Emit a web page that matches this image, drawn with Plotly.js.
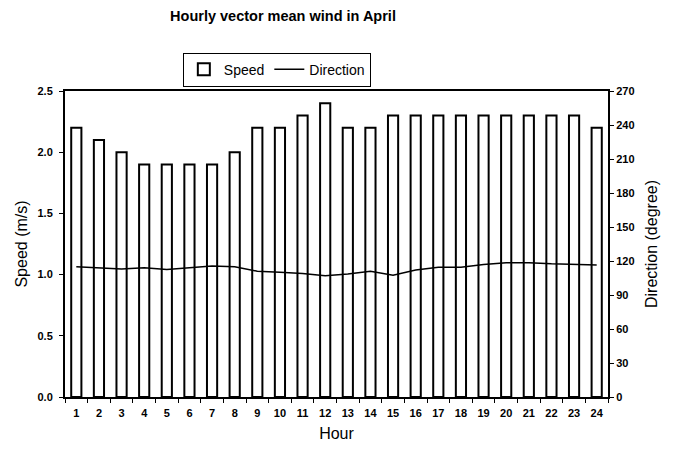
<!DOCTYPE html>
<html>
<head>
<meta charset="utf-8">
<script src="https://cdn.plot.ly/plotly-3.0.1.min.js"></script>
<style>
  html, body { margin: 0; padding: 0; background: #fff; }
  #chart { width: 674px; height: 452px; }
</style>
</head>
<body>
<div id="chart"></div>
<script>
const hours = ["1","2","3","4","5","6","7","8","9","10","11","12",
               "13","14","15","16","17","18","19","20","21","22","23","24"];
const speed = [2.2, 2.1, 2.0, 1.9, 1.9, 1.9, 1.9, 2.0, 2.2, 2.2, 2.3, 2.4,
               2.2, 2.2, 2.3, 2.3, 2.3, 2.3, 2.3, 2.3, 2.3, 2.3, 2.3, 2.2];
const direction = [115, 114, 113, 114, 112.5, 114, 115.5, 115, 111, 110, 109, 107,
                   108.5, 111, 107.5, 112, 114.5, 114.5, 117, 118.5, 118.5, 117.5, 117, 116.5];

const tickFont = {family: "Liberation Sans, Arial, sans-serif", size: 11, color: "#000", weight: "bold"};
const titleFont = {family: "Liberation Sans, Arial, sans-serif", size: 16, color: "#000"};

const traces = [
  {
    x: hours, y: speed, type: "bar", name: "Speed",
    marker: {color: "#fff", line: {color: "#000", width: 2}},
    width: 0.45
  },
  {
    x: hours, y: direction, type: "scatter", mode: "lines", name: "Direction",
    yaxis: "y2", line: {color: "#000", width: 1.5}
  }
];

const layout = {
  width: 674, height: 452,
  margin: {l: 65, r: 66, t: 91, b: 55},
  paper_bgcolor: "#fff", plot_bgcolor: "#fff",
  showlegend: true,
  title: {
    text: "Hourly vector mean wind in April",
    font: {family: "Liberation Sans, Arial, sans-serif", size: 14.5, color: "#000", weight: "bold"},
    x: 283 / 674, xanchor: "center", y: 0.965, yanchor: "middle"
  },
  legend: {
    orientation: "h", x: 0.217, y: 1.125, xanchor: "left", yanchor: "top",
    bordercolor: "#000", borderwidth: 1, bgcolor: "#fff",
    font: {family: "Liberation Sans, Arial, sans-serif", size: 14, color: "#000"},
    tracegroupgap: 0
  },
  xaxis: {
    type: "category",
    title: {text: "Hour", font: titleFont, standoff: 10},
    showline: true, linecolor: "#000", linewidth: 1.5, mirror: true,
    ticks: "outside", tickson: "boundaries", ticklen: 4, tickcolor: "#000",
    ticklabelstandoff: 5,
    tickfont: tickFont, showgrid: false, zeroline: false
  },
  yaxis: {
    range: [0, 2.5], dtick: 0.5, tickformat: ".1f",
    title: {text: "Speed (m/s)", font: titleFont, standoff: 6},
    showline: true, linecolor: "#000", linewidth: 2,
    ticks: "outside", ticklen: 4, tickcolor: "#000",
    ticklabelstandoff: 4,
    tickfont: tickFont, showgrid: false, zeroline: false
  },
  yaxis2: {
    overlaying: "y", side: "right",
    range: [0, 270], dtick: 30,
    title: {text: "Direction (degree)", font: titleFont, standoff: 12},
    showline: true, linecolor: "#000", linewidth: 2,
    ticks: "outside", ticklen: 4, tickcolor: "#000",
    tickfont: tickFont, showgrid: false, zeroline: false
  },
  bargap: 0.55
};

Plotly.newPlot("chart", traces, layout, {displayModeBar: false});
</script>
</body>
</html>
